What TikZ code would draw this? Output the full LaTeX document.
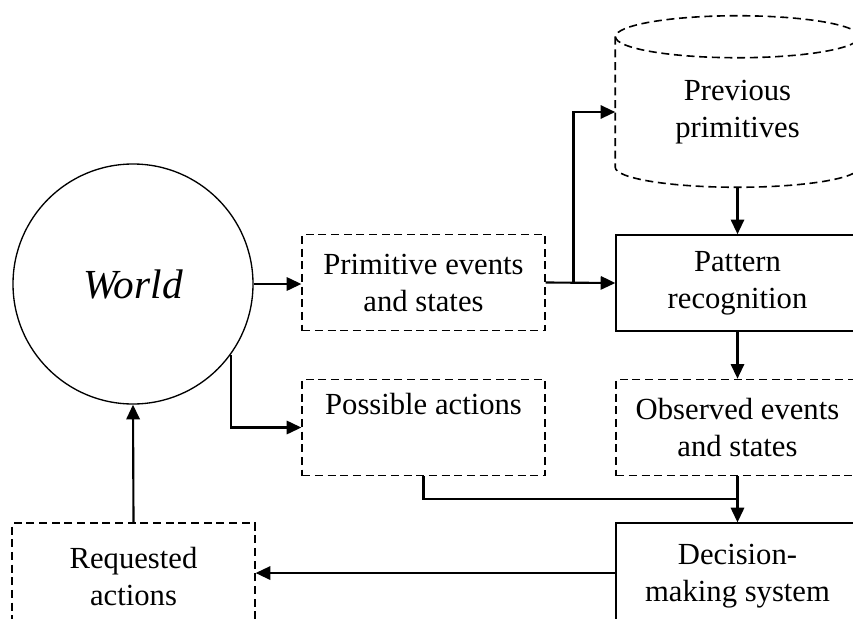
\documentclass[tikz,border=0pt]{standalone}
\usepackage{fontspec}
\setmainfont{Liberation Serif}
\usetikzlibrary{arrows.meta,calc}
\begin{document}
\begin{tikzpicture}[x=.75pt,y=-.75pt,font=\fontsize{23}{27.75}\selectfont,
  blk/.style={draw,line width=1.2pt,minimum width=182pt,minimum height=72pt,align=center,inner sep=0pt},
  dblk/.style={blk,dash pattern=on 6pt off 3.5pt},
  arr/.style={line width=1.6pt,-{Triangle[length=11pt,width=10pt]}},
  ln/.style={line width=1.6pt}]
\clip (0,0) rectangle (853,618);
\node[draw,circle,line width=1pt,minimum size=180pt,inner sep=0pt,font=\fontsize{31}{36}\selectfont\itshape] (world) at (133,284) {World};
\node[dblk] (prim) at (423.5,282.5) {Primitive events\\and states};
\node[dblk] (poss) at (423.5,427.5) {Possible actions\\\strut};
\node[blk] (patt) at (737.5,283) {Pattern\\recognition};
\node[dblk] (obs) at (737.5,427.5) {Observed events\\and states};
\node[blk,minimum height=80pt] (dec) at (737.5,576.5) {Decision-\\making system};
\node[dblk,minimum height=80pt] (req) at (133.5,576.5) {Requested\\actions};
\node[align=center,minimum width=183pt,minimum height=112.5pt,inner sep=0pt] (cyl) at (737.5,112) {Previous\\primitives};
\draw[line width=1.2pt,dash pattern=on 6pt off 3.5pt] (cyl.north) ellipse[x radius=91.5pt,y radius=15.75pt];
\draw[line width=1.2pt,dash pattern=on 6pt off 3.5pt] (cyl.north west) -- ([yshift=15pt]cyl.south west) arc[start angle=180,end angle=360,x radius=91.5pt,y radius=15pt] -- (cyl.north east);
\coordinate (sp) at ($(prim.east)!.4!(patt.west)$);
\coordinate (mg) at ($(obs.south)!.5!(dec.north)$);
\draw[arr] (world.east) -- (world.east -| prim.west);
\draw[arr] (prim.east) -- (patt.west);
\draw[arr] (sp) |- (cyl.west);
\draw[arr] (cyl.south) -- (patt.north);
\draw[arr] (patt) -- (obs);
\draw[arr] (world.-36) |- (poss.west);
\draw[ln] (poss.south) |- (mg);
\draw[arr] (obs.south) -- (dec.north);
\draw[arr] ([yshift=2.6pt]dec.west) -- ([yshift=2.6pt]dec.west -| req.east);
\draw[arr] (req.north) -- (world.south);
\end{tikzpicture}
\end{document}
